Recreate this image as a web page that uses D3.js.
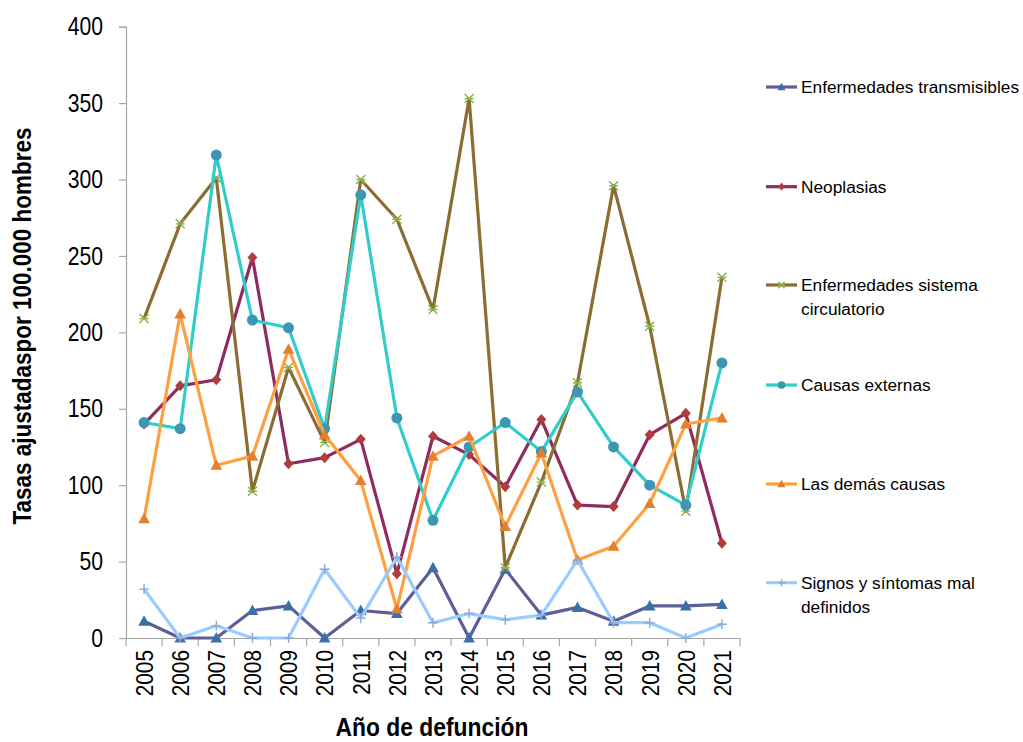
<!DOCTYPE html>
<html><head><meta charset="utf-8">
<script src="https://cdn.jsdelivr.net/npm/d3@7"></script>
<style>
html,body{margin:0;padding:0;background:#fff;}
svg{display:block;font-family:"Liberation Sans",Arial,sans-serif;}
</style></head>
<body>
<svg id="chart" width="1023" height="742"></svg>
<script>
const years = ["2005","2006","2007","2008","2009","2010","2011","2012","2013","2014","2015","2016","2017","2018","2019","2020","2021"];
const yTicks = [0,50,100,150,200,250,300,350,400];
const seriesNames = ["Enfermedades transmisibles","Neoplasias","Enfermedades sistema circulatorio","Causas externas","Las demás causas","Signos y síntomas mal definidos"];
const transmisibles = [11,0,0,18,21,0,18,16,46,0,45,15,20,11,21,21,22];
const neoplasias   = [140,165,169,249,114,118,130,42,132,120,99,143,87,86,133,147,62];
const circulatorio = [209,271,301,96,177,128,300,274,215,353,46,102,167,296,204,83,236];
const externas     = [141,137,316,208,203,137,290,144,77,125,141,122,161,125,100,87,180];
const demas        = [78,212,113,119,189,133,103,19,119,132,73,121,51,60,88,140,144];
const signos       = [32,0,8,0,0,45,13,53,10,16,12,15,51,10,10,0,9];

const legendLines = [["Enfermedades transmisibles"],["Neoplasias"],["Enfermedades sistema","circulatorio"],["Causas externas"],["Las demás causas"],["Signos y síntomas mal","definidos"]];
const seriesValues = [transmisibles,neoplasias,circulatorio,externas,demas,signos];
const lineColors = ["#5e5f98","#8f2c5f","#8b6d33","#33cccc","#ffa040","#99ccff"];
const markerColors = ["#3b6fa8","#b03c3c","#8db04a","#3d97b0","#e37f30","#8fa9d2"];
const markerTypes = ["triangle","diamond","xstar","circle","triangle","plus"];

const svg = d3.select("#chart");
const plotLeft = 126, plotRight = 740, plotTop = 26.7, plotBottom = 638;
const x = d3.scaleBand().domain(years).range([plotLeft,plotRight]).padding(0);
const y = d3.scaleLinear().domain([0,400]).range([plotBottom,plotTop]);
const axisColor = "#a6a6a6";

function narrow(sel, factor){
  sel.each(function(){
    const len = this.getComputedTextLength();
    d3.select(this).attr("textLength", len*factor).attr("lengthAdjust","spacingAndGlyphs");
  });
}

// Y axis
const yAxis = svg.append("g").attr("transform",`translate(${plotLeft},0)`)
  .call(d3.axisLeft(y).tickValues(yTicks).tickSize(7).tickPadding(16).tickFormat(d3.format("d")));
yAxis.select(".domain").attr("stroke",axisColor).attr("stroke-width",1.2);
yAxis.selectAll(".tick line").attr("stroke",axisColor).attr("stroke-width",1.2);
yAxis.selectAll(".tick text").attr("font-size","25.5px").attr("fill","#000").attr("font-family","Liberation Sans, Arial, sans-serif");
narrow(yAxis.selectAll(".tick text"), 0.83);

// X axis
const xAxis = svg.append("g").attr("transform",`translate(0,${plotBottom})`)
  .call(d3.axisBottom(x).tickSize(0).tickSizeOuter(0));
xAxis.select(".domain").attr("stroke",axisColor).attr("stroke-width",1.2);
xAxis.selectAll(".tick text")
  .attr("font-size","24.5px").attr("fill","#000").attr("font-family","Liberation Sans, Arial, sans-serif")
  .attr("text-anchor","end").attr("transform","rotate(-90)")
  .attr("x",-12).attr("y",0).attr("dy","0.36em");
narrow(xAxis.selectAll(".tick text"), 0.85);
// boundary tick marks
const bounds = years.map(d=>x(d)).concat([plotRight]);
svg.append("g").selectAll("line").data(bounds).join("line")
  .attr("x1",d=>d).attr("x2",d=>d).attr("y1",plotBottom).attr("y2",plotBottom+8)
  .attr("stroke",axisColor).attr("stroke-width",1.2);

// Titles
svg.append("text").attr("x",432).attr("y",736).attr("text-anchor","middle")
  .attr("font-weight","bold").attr("font-size","25px")
  .attr("textLength",193).attr("lengthAdjust","spacingAndGlyphs").text("Año de defunción");
svg.append("text").attr("transform","translate(31,326) rotate(-90)").attr("text-anchor","middle")
  .attr("font-weight","bold").attr("font-size","25px")
  .attr("textLength",397).attr("lengthAdjust","spacingAndGlyphs")
  .text("Tasas ajustadaspor 100.000 hombres");

function drawMarker(g, type, cx, cy, color, s){
  if(type==="triangle"){
    g.append("path").attr("d",`M${cx},${cy-s*0.6}L${cx+s*0.58},${cy+s*0.45}L${cx-s*0.58},${cy+s*0.45}Z`).attr("fill",color);
  } else if(type==="diamond"){
    g.append("path").attr("d",`M${cx},${cy-s*0.55}L${cx+s*0.5},${cy}L${cx},${cy+s*0.55}L${cx-s*0.5},${cy}Z`).attr("fill",color);
  } else if(type==="circle"){
    g.append("circle").attr("cx",cx).attr("cy",cy).attr("r",s*0.55).attr("fill",color);
  } else if(type==="xstar"){
    const h=s*0.45;
    g.append("path").attr("d",`M${cx-h},${cy-h}L${cx+h},${cy+h}M${cx+h},${cy-h}L${cx-h},${cy+h}M${cx-h},${cy}L${cx+h},${cy}`).attr("stroke",color).attr("stroke-width",1.4).attr("fill","none");
  } else if(type==="plus"){
    const h=s*0.5;
    g.append("path").attr("d",`M${cx-h},${cy}L${cx+h},${cy}M${cx},${cy-h}L${cx},${cy+h}`).attr("stroke",color).attr("stroke-width",1.4).attr("fill","none");
  }
}

const line = d3.line().x((d,i)=>x(years[i])+x.bandwidth()/2).y(d=>y(d));
seriesValues.forEach((vals,si)=>{
  const g = svg.append("g");
  g.append("path").datum(vals).attr("d",line).attr("fill","none")
    .attr("stroke",lineColors[si]).attr("stroke-width",3.2).attr("stroke-linejoin","round");
  vals.forEach((v,i)=>drawMarker(g, markerTypes[si], x(years[i])+x.bandwidth()/2, y(v), markerColors[si], 10));
});

// Legend
const legendY = [87,186.7,285,385,484,582.7];
legendLines.forEach((lines,i)=>{
  const g = svg.append("g");
  const ly = legendY[i];
  g.append("line").attr("x1",766).attr("x2",797).attr("y1",ly).attr("y2",ly)
    .attr("stroke",lineColors[i]).attr("stroke-width",3.2);
  drawMarker(g, markerTypes[i], 781.5, ly, markerColors[i], 7);
  lines.forEach((t,j)=>{
    g.append("text").attr("x",801).attr("y",ly+j*24).attr("dy","0.36em")
      .attr("font-size","17.3px").attr("fill","#000").text(t);
  });
});
</script>
</body></html>
